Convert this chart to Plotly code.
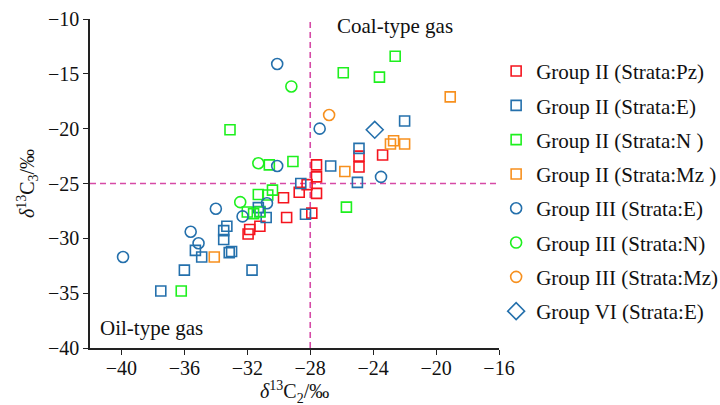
import plotly.graph_objects as go

# δ13C2 (x) and δ13C3 (y) values, ‰, per group / strata
g2_pz_x = [-27.6, -27.6, -24.9, -24.9, -23.4, -28.2, -28.7, -27.6, -29.7, -29.5, -27.9, -31.2, -31.85, -31.95]
g2_pz_y = [-23.3, -24.4, -22.5, -23.5, -22.4, -25.1, -25.8, -25.9, -26.3, -28.1, -27.7, -28.9, -29.2, -29.6]

g2_e_x = [-22.0, -24.9, -26.7, -25.0, -28.6, -28.3, -31.3, -31.2, -30.8, -33.3, -33.5, -33.5,
          -35.3, -34.9, -33.15, -33.0, -36.0, -37.5, -31.7]
g2_e_y = [-19.3, -21.8, -23.4, -24.9, -25.0, -27.8, -27.2, -27.55, -28.1, -28.9, -29.3, -30.1,
          -31.1, -31.7, -31.3, -31.2, -32.9, -34.8, -32.9]

g2_n_x = [-22.6, -25.9, -23.6, -33.1, -30.6, -29.1, -31.3, -30.4, -30.7, -32.0, -31.6, -31.2, -36.2, -25.7]
g2_n_y = [-13.4, -14.9, -15.3, -20.1, -23.3, -23.0, -26.0, -25.6, -26.05, -27.6, -27.75, -27.6, -34.8, -27.15]

g2_mz_x = [-19.1, -22.7, -22.9, -22.0, -25.8, -34.1]
g2_mz_y = [-17.1, -21.1, -21.4, -21.4, -23.9, -31.7]

g3_e_x = [-30.1, -27.4, -30.1, -23.5, -30.75, -32.3, -34.0, -35.6, -35.1, -39.9]
g3_e_y = [-14.1, -20.0, -23.4, -24.4, -26.8, -28.0, -27.3, -29.4, -30.45, -31.7]

g3_n_x = [-29.2, -31.3, -32.45]
g3_n_y = [-16.15, -23.15, -26.7]

g3_mz_x = [-26.8]
g3_mz_y = [-18.75]

g6_e_x = [-23.9]
g6_e_y = [-20.1]

RED = "#f5141e"
BLUE = "#2470ac"
GREEN = "#1ef01e"
ORANGE = "#f7901e"
SERIF = "Liberation Serif, Times New Roman, serif"
INK = "#111"

series = [
    ("Group II (Strata:Pz)", g2_pz_x, g2_pz_y, "square-open", RED, 10),
    ("Group II (Strata:E)", g2_e_x, g2_e_y, "square-open", BLUE, 10),
    ("Group II (Strata:N )", g2_n_x, g2_n_y, "square-open", GREEN, 10),
    ("Group II (Strata:Mz )", g2_mz_x, g2_mz_y, "square-open", ORANGE, 10),
    ("Group III (Strata:E)", g3_e_x, g3_e_y, "circle-open", BLUE, 11),
    ("Group III (Strata:N)", g3_n_x, g3_n_y, "circle-open", GREEN, 11),
    ("Group III (Strata:Mz)", g3_mz_x, g3_mz_y, "circle-open", ORANGE, 11),
    ("Group VI (Strata:E)", g6_e_x, g6_e_y, "diamond-open", BLUE, 13),
]

fig = go.Figure()
for i, (name, xs, ys, sym, col, sz) in enumerate(series):
    fig.add_trace(go.Scatter(
        x=xs, y=ys, mode="markers", name=name, legendgroup=f"g{i}",
        marker=dict(symbol=sym, size=sz, color=col, line=dict(width=1.6, color=col)),
    ))

# dividing lines between oil-type and coal-type gas
DIV_X = -28
DIV_Y = -25
dash_style = dict(color="#d64aa6", width=1.6, dash="6px,4px")
fig.add_shape(type="line", xref="x", yref="paper", x0=DIV_X, x1=DIV_X, y0=0, y1=1, line=dash_style, layer="below")
fig.add_shape(type="line", xref="paper", yref="y", x0=0, x1=1, y0=DIV_Y, y1=DIV_Y, line=dash_style, layer="below")

fig.add_annotation(x=-26.4, y=-10.65, xref="x", yref="y", text="Coal-type gas", showarrow=False,
                   xanchor="left", yanchor="middle", font=dict(family=SERIF, size=21, color=INK))
fig.add_annotation(x=-41.5, y=-38.2, xref="x", yref="y", text="Oil-type gas", showarrow=False,
                   xanchor="left", yanchor="middle", font=dict(family=SERIF, size=21, color=INK))

# x-axis title placed as a paper annotation under the tick labels
fig.add_annotation(x=0.5, y=-0.133, xref="paper", yref="paper",
                   text="<i>δ</i><sup>13</sup>C<sub>2</sub>/‰", showarrow=False,
                   xanchor="center", yanchor="middle", font=dict(family=SERIF, size=20, color=INK))

axis_common = dict(
    showgrid=False, zeroline=False, showline=True, linecolor="#222", linewidth=1.5,
    ticks="outside", ticklen=5, tickwidth=1.3, tickcolor="#222",
    tickfont=dict(family=SERIF, size=20, color=INK),
)
fig.update_xaxes(range=[-42, -16], tickvals=[-40, -36, -32, -28, -24, -20, -16],
                 ticktext=["−40", "−36", "−32", "−28", "−24", "−20", "−16"],
                 ticklabelstandoff=-4,
                 **axis_common)
fig.update_yaxes(range=[-40, -10], tickvals=[-40, -35, -30, -25, -20, -15, -10],
                 ticktext=["−40", "−35", "−30", "−25", "−20", "−15", "−10"],
                 title=dict(text="<i>δ</i><sup>13</sup>C<sub>3</sub>/‰", standoff=8,
                            font=dict(family=SERIF, size=20, color=INK)),
                 **axis_common)

fig.update_layout(
    width=720, height=405,
    margin=dict(l=90, r=221, t=19, b=57, autoexpand=False),
    plot_bgcolor="white", paper_bgcolor="white",
    legend=dict(x=0.993, y=0.903, xanchor="left", yanchor="top",
                traceorder="grouped", tracegroupgap=4,
                font=dict(family=SERIF, size=21, color=INK),
                bgcolor="rgba(0,0,0,0)", itemwidth=30),
)

fig.write_html("out.html")
